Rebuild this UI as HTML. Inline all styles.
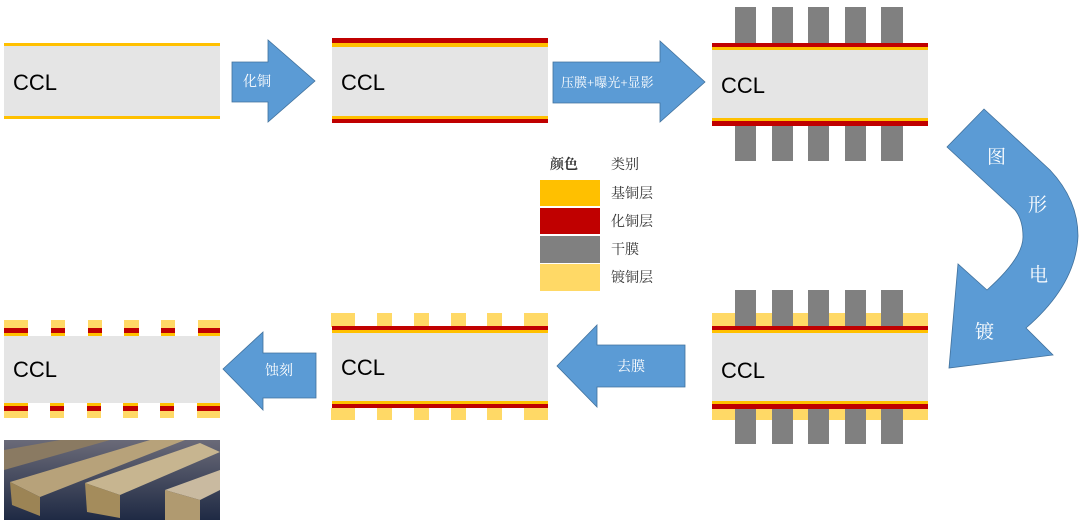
<!DOCTYPE html>
<html><head><meta charset="utf-8"><style>
html,body{margin:0;padding:0;background:#fff;width:1080px;height:526px;overflow:hidden}
svg text{font-family:"Liberation Sans","Noto Serif CJK SC","Noto Sans CJK SC",sans-serif}
.c{font-size:22px;fill:#000}
.w{font-size:14px;fill:#fff;font-family:"Liberation Serif","Noto Serif CJK SC",serif}
.l{font-size:14px;fill:#333;font-family:"Liberation Serif","Noto Serif CJK SC",serif}
</style></head><body>
<svg width="1080" height="526" viewBox="0 0 1080 526" xmlns="http://www.w3.org/2000/svg">
<defs>
<linearGradient id="bg" x1="0" y1="0" x2="0" y2="1"><stop offset="0" stop-color="#6a6a78"/><stop offset="1" stop-color="#1f2a44"/></linearGradient>
</defs>
<!-- Box1 -->
<rect x="4" y="43" width="216" height="3" fill="#ffc000"/>
<rect x="4" y="46" width="216" height="70" fill="#e5e5e5"/>
<rect x="4" y="116" width="216" height="3" fill="#ffc000"/>
<text class="c" x="13" y="90">CCL</text>
<!-- Arrow1 -->
<polygon points="232,62 268,62 268,40 315,81 268,122 268,102 232,102" fill="#5b9bd5" stroke="#41719c" stroke-width="0.8"/>
<text class="w" x="243" y="86">化铜</text>
<!-- Box2 -->
<rect x="332" y="38" width="216" height="5" fill="#c00000"/>
<rect x="332" y="43" width="216" height="4" fill="#ffc000"/>
<rect x="332" y="47" width="216" height="69" fill="#e5e5e5"/>
<rect x="332" y="116" width="216" height="3" fill="#ffc000"/>
<rect x="332" y="119" width="216" height="4" fill="#c00000"/>
<text class="c" x="341" y="90">CCL</text>
<!-- Arrow2 -->
<polygon points="553,62 660,62 660,41 705,82 660,122 660,103 553,103" fill="#5b9bd5" stroke="#41719c" stroke-width="0.8"/>
<text class="w" x="561" y="87" style="font-size:13px">压膜+曝光+显影</text>
<!-- Box3 -->
<g fill="#808080">
<rect x="735" y="7" width="21" height="36"/><rect x="772" y="7" width="21" height="36"/><rect x="808" y="7" width="21" height="36"/><rect x="845" y="7" width="21" height="36"/><rect x="881" y="7" width="22" height="36"/>
<rect x="735" y="126" width="21" height="35"/><rect x="772" y="126" width="21" height="35"/><rect x="808" y="126" width="21" height="35"/><rect x="845" y="126" width="21" height="35"/><rect x="881" y="126" width="22" height="35"/>
</g>
<rect x="712" y="43" width="216" height="4" fill="#c00000"/>
<rect x="712" y="47" width="216" height="3" fill="#ffc000"/>
<rect x="712" y="50" width="216" height="68" fill="#e5e5e5"/>
<rect x="712" y="118" width="216" height="3" fill="#ffc000"/>
<rect x="712" y="121" width="216" height="5" fill="#c00000"/>
<text class="c" x="721" y="93">CCL</text>
<!-- Curved arrow -->
<path d="M984,109 L1050,170 Q1078,200 1078,236 Q1076,285 1026,328 L1053,355 L949,368 L958,264 L987,290 Q1023,258 1023,237 Q1023,220 1015,210 L947,147 Z" fill="#5b9bd5" stroke="#41719c" stroke-width="0.8"/>
<text class="w" x="987" y="163" style="font-size:19px">图</text>
<text class="w" x="1028" y="211" style="font-size:19px">形</text>
<text class="w" x="1029" y="281" style="font-size:19px">电</text>
<text class="w" x="975" y="338" style="font-size:19px">镀</text>
<!-- Box4 -->
<rect x="712" y="313" width="216" height="13" fill="#ffd966"/>
<rect x="712" y="409" width="216" height="11" fill="#ffd966"/>
<g fill="#808080">
<rect x="735" y="290" width="21" height="36"/><rect x="772" y="290" width="21" height="36"/><rect x="808" y="290" width="21" height="36"/><rect x="845" y="290" width="21" height="36"/><rect x="881" y="290" width="22" height="36"/>
<rect x="735" y="409" width="21" height="35"/><rect x="772" y="409" width="21" height="35"/><rect x="808" y="409" width="21" height="35"/><rect x="845" y="409" width="21" height="35"/><rect x="881" y="409" width="22" height="35"/>
</g>
<rect x="712" y="326" width="216" height="4" fill="#c00000"/>
<rect x="712" y="330" width="216" height="3" fill="#ffc000"/>
<rect x="712" y="333" width="216" height="68" fill="#e5e5e5"/>
<rect x="712" y="401" width="216" height="3" fill="#ffc000"/>
<rect x="712" y="404" width="216" height="5" fill="#c00000"/>
<text class="c" x="721" y="378">CCL</text>
<!-- Arrow 去膜 -->
<polygon points="685,345 597,345 597,325 557,366 597,407 597,387 685,387" fill="#5b9bd5" stroke="#41719c" stroke-width="0.8"/>
<text class="w" x="617" y="371">去膜</text>
<!-- Box5 -->
<g fill="#ffd966">
<rect x="331" y="313" width="24" height="14"/><rect x="377" y="313" width="15" height="14"/><rect x="414" y="313" width="15" height="14"/><rect x="451" y="313" width="15" height="14"/><rect x="487" y="313" width="15" height="14"/><rect x="524" y="313" width="24" height="14"/>
<rect x="331" y="408" width="24" height="12"/><rect x="377" y="408" width="15" height="12"/><rect x="414" y="408" width="15" height="12"/><rect x="451" y="408" width="15" height="12"/><rect x="487" y="408" width="15" height="12"/><rect x="524" y="408" width="24" height="12"/>
</g>
<rect x="332" y="326" width="216" height="4" fill="#c00000"/>
<rect x="332" y="330" width="216" height="3" fill="#ffc000"/>
<rect x="332" y="333" width="216" height="68" fill="#e5e5e5"/>
<rect x="332" y="401" width="216" height="3" fill="#ffc000"/>
<rect x="332" y="404" width="216" height="4" fill="#c00000"/>
<text class="c" x="341" y="375">CCL</text>
<!-- Arrow 蚀刻 -->
<polygon points="316,353 263,353 263,332 223,369 263,410 263,398 316,398" fill="#5b9bd5" stroke="#41719c" stroke-width="0.8"/>
<text class="w" x="265" y="375">蚀刻</text>
<!-- Box6 -->
<g>
<rect x="4" y="320" width="24" height="8" fill="#ffd966"/><rect x="51" y="320" width="14" height="8" fill="#ffd966"/><rect x="88" y="320" width="14" height="8" fill="#ffd966"/><rect x="124" y="320" width="15" height="8" fill="#ffd966"/><rect x="161" y="320" width="14" height="8" fill="#ffd966"/><rect x="198" y="320" width="22" height="8" fill="#ffd966"/>
<rect x="4" y="328" width="24" height="5" fill="#c00000"/><rect x="51" y="328" width="14" height="5" fill="#c00000"/><rect x="88" y="328" width="14" height="5" fill="#c00000"/><rect x="124" y="328" width="15" height="5" fill="#c00000"/><rect x="161" y="328" width="14" height="5" fill="#c00000"/><rect x="198" y="328" width="22" height="5" fill="#c00000"/>
<rect x="4" y="333" width="24" height="3" fill="#ffc000"/><rect x="51" y="333" width="14" height="3" fill="#ffc000"/><rect x="88" y="333" width="14" height="3" fill="#ffc000"/><rect x="124" y="333" width="15" height="3" fill="#ffc000"/><rect x="161" y="333" width="14" height="3" fill="#ffc000"/><rect x="198" y="333" width="22" height="3" fill="#ffc000"/>
</g>
<rect x="4" y="336" width="216" height="67" fill="#e5e5e5"/>
<g>
<rect x="4" y="403" width="24" height="3" fill="#ffc000"/><rect x="50" y="403" width="14" height="3" fill="#ffc000"/><rect x="87" y="403" width="14" height="3" fill="#ffc000"/><rect x="123" y="403" width="15" height="3" fill="#ffc000"/><rect x="160" y="403" width="14" height="3" fill="#ffc000"/><rect x="197" y="403" width="23" height="3" fill="#ffc000"/>
<rect x="4" y="406" width="24" height="5" fill="#c00000"/><rect x="50" y="406" width="14" height="5" fill="#c00000"/><rect x="87" y="406" width="14" height="5" fill="#c00000"/><rect x="123" y="406" width="15" height="5" fill="#c00000"/><rect x="160" y="406" width="14" height="5" fill="#c00000"/><rect x="197" y="406" width="23" height="5" fill="#c00000"/>
<rect x="4" y="411" width="24" height="7" fill="#ffd966"/><rect x="50" y="411" width="14" height="7" fill="#ffd966"/><rect x="87" y="411" width="14" height="7" fill="#ffd966"/><rect x="123" y="411" width="15" height="7" fill="#ffd966"/><rect x="160" y="411" width="14" height="7" fill="#ffd966"/><rect x="197" y="411" width="23" height="7" fill="#ffd966"/>
</g>
<text class="c" x="13" y="377">CCL</text>
<!-- Photo -->
<rect x="4" y="440" width="216" height="80" fill="url(#bg)"/>
<polygon points="4,450 60,440 110,440 4,470" fill="#8a7a62"/>
<polygon points="10,482 150,440 185,440 40,497" fill="#b7a27a"/>
<polygon points="10,482 40,497 40,516 12,505" fill="#9c8455"/>
<polygon points="85,483 200,443 220,452 120,495" fill="#c7b590"/>
<polygon points="85,483 120,495 120,518 87,512" fill="#a48c5c"/>
<polygon points="165,490 220,470 220,490 200,500" fill="#c9baa0"/>
<polygon points="165,490 200,500 200,520 165,520" fill="#b09a70"/>
<!-- Legend -->
<text class="l" x="550" y="169" style="font-weight:bold">颜色</text>
<text class="l" x="611" y="169">类别</text>
<rect x="540" y="180" width="60" height="26" fill="#ffc000"/>
<rect x="540" y="208" width="60" height="26" fill="#c00000"/>
<rect x="540" y="236" width="60" height="27" fill="#808080"/>
<rect x="540" y="264" width="60" height="27" fill="#ffd966"/>
<text class="l" x="611" y="198">基铜层</text>
<text class="l" x="611" y="226">化铜层</text>
<text class="l" x="611" y="254">干膜</text>
<text class="l" x="611" y="282">镀铜层</text>
</svg>
</body></html>
